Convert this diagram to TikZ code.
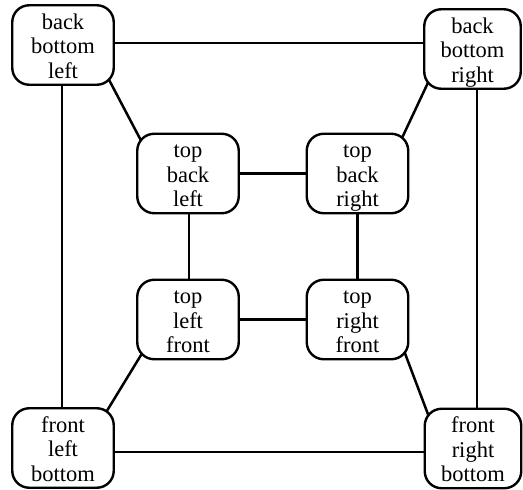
\documentclass[tikz,border=0pt]{standalone}
\usepackage{fontspec}
\setmainfont{Liberation Serif}
\usetikzlibrary{backgrounds}
\begin{document}
\begin{tikzpicture}[x=1pt,y=-1pt,
  box/.style={draw, line width=2.4pt, rounded corners=17pt, fill=white,
    align=center, minimum width=101.5pt, minimum height=79.5pt, inner sep=0pt,
    text height=71pt, text depth=5pt,
    font=\fontsize{22.5}{24.5}\selectfont},
  narrow/.style={minimum width=96.5pt},
  link/.style={line width=2.5pt}]
\useasboundingbox (0,0) rectangle (523,490);

% outer corners
\node[box] (bbl) at (63,45) {back\\bottom\\left};
\node[box,narrow] (bbr) at (472.5,49) {back\\bottom\\right};
\node[box] (flb) at (63,448) {front\\left\\bottom};
\node[box,narrow] (frb) at (473,448.5) {front\\right\\bottom};

% inner square
\node[box] (tbl) at (188,173.5) {top\\back\\left};
\node[box] (tbr) at (357.5,173.5) {top\\back\\right};
\node[box] (tlf) at (188,319.5) {top\\left\\front};
\node[box] (trf) at (357.5,319.5) {top\\right\\front};

\begin{pgfonlayer}{background}
  % outer frame
  \draw[link] ([yshift=2pt]bbl.center) -- ([yshift=2pt]bbl.center -| bbr.center);
  \draw[link] ([xshift=-1pt]bbl.center) -- ([xshift=-1pt]bbl.center |- flb.center);
  \draw[link] ([xshift=4.5pt]bbr.center) -- ([xshift=4.5pt]bbr.center |- frb.center);
  \draw[link] ([yshift=-4pt]flb.center) -- ([yshift=-4pt]flb.center -| frb.center);
  % inner square
  \draw[link] (tbl.center) -- (tbr.center);
  \draw[link] (tlf.center) -- (trf.center);
  \draw[link] ([xshift=1pt]tbl.center) -- ([xshift=1pt]tbl.center |- tlf.center);
  \draw[link] (tbr.center) -- (trf.center);
  % diagonals
  \draw[link] ([shift={(-9pt,12pt)}]bbl.south east) -- ([shift={(6pt,-10pt)}]tbl.north west);
  \draw[link] ([shift={(8.4pt,14.6pt)}]bbr.south west) -- ([shift={(-9.4pt,-9.6pt)}]tbr.north east);
  \draw[link] ([shift={(9pt,12pt)}]tlf.south west) -- ([shift={(-13pt,-12pt)}]flb.north east);
  \draw[link] ([shift={(-7.3pt,14.6pt)}]trf.south east) -- ([shift={(5.7pt,-10pt)}]frb.north west);
\end{pgfonlayer}
\end{tikzpicture}
\end{document}
